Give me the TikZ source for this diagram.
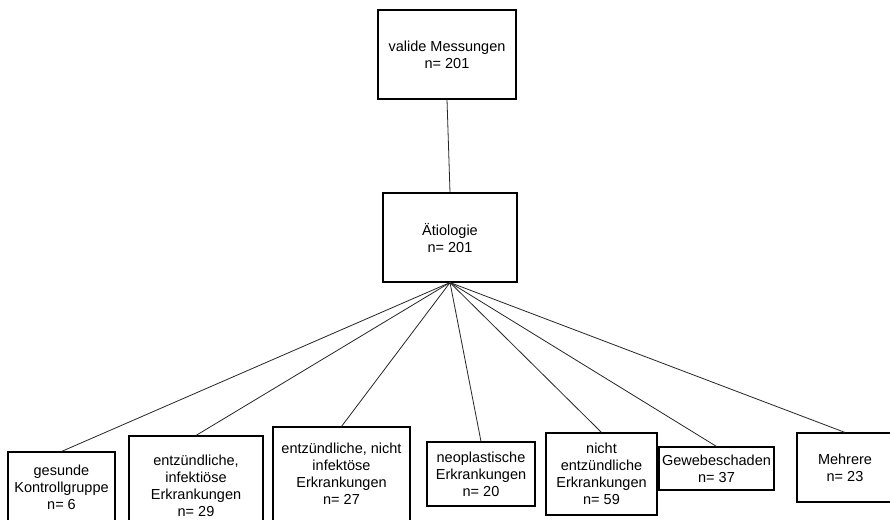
\documentclass[tikz,border=0pt]{standalone}
\usepackage{fontspec}
\setmainfont{Liberation Sans}
\usepackage{tikz}

\tikzset{
	box/.style={draw,line width=1.1pt,inner sep=0pt,align=center,
		font=\fontsize{14.5}{17}\selectfont},
	link/.style={draw=black!85,line width=0.8pt}
}

\begin{document}
\begin{tikzpicture}[x=1pt,y=-1pt]
\useasboundingbox (0,0) rectangle (890,519);
\clip (0,0) rectangle (890,519);
\fill[white] (0,0) rectangle (890,519);
	\node[box,minimum width=138pt,minimum height=89pt] (valid) at (447,54.5) {valide Messungen\\n= 201};
	\node[box,minimum width=134pt,minimum height=89pt] (aetio) at (450,237.5) {Ätiologie\\n= 201};
	\node[box,minimum width=107pt,minimum height=70pt] (ges) at (61.5,487) {gesunde\\Kontrollgruppe\\n= 6};
	\node[box,minimum width=134pt,minimum height=100pt] (infekt) at (196,486) {entzündliche,\\infektiöse\\Erkrankungen\\n= 29};
	\node[box,minimum width=137pt,minimum height=94pt] (ninfekt) at (341.5,474) {entzündliche, nicht\\infektöse\\Erkrankungen\\n= 27};
	\node[box,minimum width=108pt,minimum height=64pt] (neo) at (481,474) {neoplastische\\Erkrankungen\\n= 20};
	\node[box,minimum width=111pt,minimum height=82pt] (nentz) at (601.5,474) {nicht\\entzündliche\\Erkrankungen\\n= 59};
	\node[box,minimum width=115pt,minimum height=43pt] (gewebe) at (716.5,468.5) {Gewebeschaden\\n= 37};
	\node[box,minimum width=96pt,minimum height=69pt] (mehr) at (845,467.5) {Mehrere\\n= 23};
\draw[link] (valid.south) -- (aetio.north);
\draw[link] (aetio.south) -- (ges.north);
\draw[link] (aetio.south) -- (infekt.north);
\draw[link] (aetio.south) -- (ninfekt.north);
\draw[link] (aetio.south) -- (neo.north);
\draw[link] (aetio.south) -- (nentz.north);
\draw[link] (aetio.south) -- (gewebe.north);
\draw[link] (aetio.south) -- (mehr.north);
\end{tikzpicture}
\end{document}
